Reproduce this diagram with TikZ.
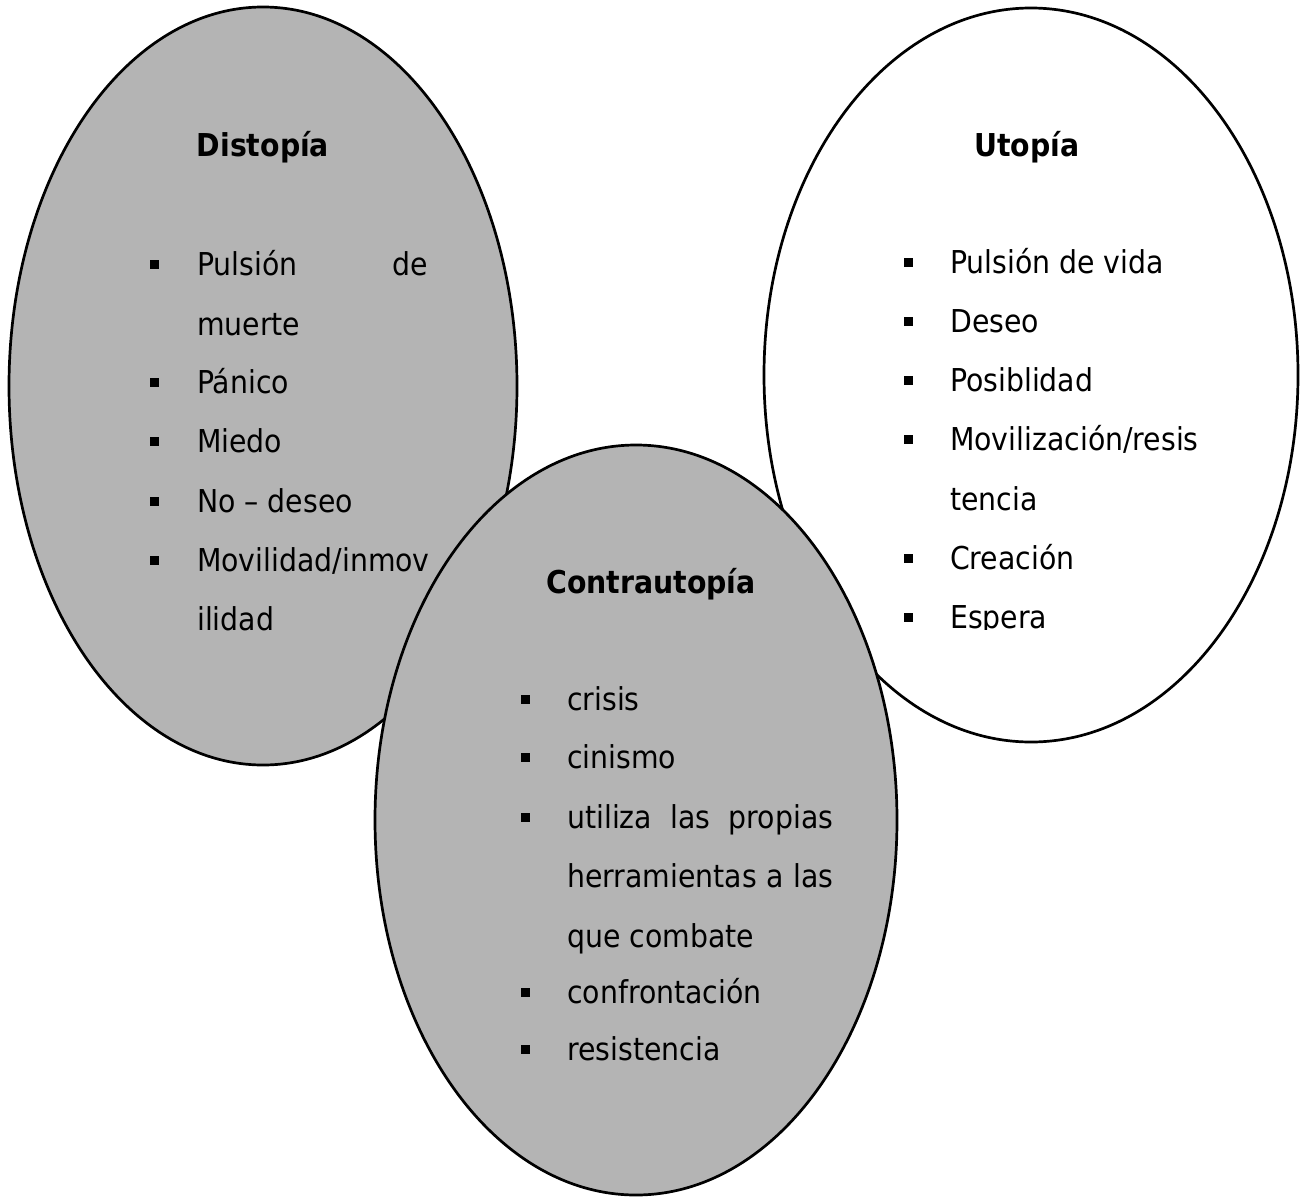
\documentclass[tikz,border=0pt]{standalone}
\usepackage{fontspec}
\setmainfont{DejaVu Sans Condensed}
\usetikzlibrary{shapes.geometric}
\definecolor{shade}{RGB}{180,180,180}
\begin{document}
\begin{tikzpicture}[x=1pt,y=-1pt,
  oval/.style={ellipse, draw=black, line width=2.7pt, inner sep=0pt},
  txt/.style={anchor=base west, inner sep=0pt, font=\fontsize{31.5}{37}\selectfont},
  head/.style={anchor=base, inner sep=0pt, font=\fontsize{31.5}{37}\selectfont\bfseries},
  bul/.style={fill=black, minimum size=9pt, inner sep=0pt}]
\useasboundingbox (0,0) rectangle (1300,1196);
\fill[white] (0,0) rectangle (1300,1196);
% ellipses
\node[oval, fill=shade, minimum width=508pt, minimum height=758pt] (dis) at (263,386) {};
\node[oval, fill=white, minimum width=534pt, minimum height=734pt] (uto) at (1031,375) {};
\node[oval, fill=shade, minimum width=522pt, minimum height=750pt] (con) at (636,820) {};
% Distopia
\node[head] (disH) at (263,157) {Distopía};
\node[bul] (db1) at (154,264) {};
\node[txt] (dt1) at (197,275) {\makebox[231pt][l]{Pulsión\hfill de}};
\node[txt] (dt2) at (197,335) {muerte};
\node[bul] (db2) at (154,382) {};
\node[txt] (dt3) at (197,393) {Pánico};
\node[bul] (db3) at (154,441) {};
\node[txt] (dt4) at (197,452) {Miedo};
\node[bul] (db4) at (154,501) {};
\node[txt] (dt5) at (197,512) {No – deseo};
\node[bul] (db5) at (154,560) {};
\node[txt] (dt6) at (197,571) {Movilidad/inmov};
\node[txt] (dt7) at (197,630) {ilidad};
% Utopia
\node[head] (utoH) at (1027,157) {Utopía};
\node[bul] (ub1) at (908,262) {};
\node[txt] (ut1) at (950,273) {Pulsión de vida};
\node[bul] (ub2) at (908,321) {};
\node[txt] (ut2) at (950,332) {Deseo};
\node[bul] (ub3) at (908,380) {};
\node[txt] (ut3) at (950,391) {Posiblidad};
\node[bul] (ub4) at (908,439) {};
\node[txt] (ut4) at (950,450) {Movilización/resis};
\node[txt] (ut5) at (950,510) {tencia};
\node[bul] (ub5) at (908,558) {};
\node[txt] (ut6) at (950,569) {Creación};
\node[bul] (ub6) at (908,617) {};
\begin{scope}
\clip (900,590) rectangle (1200,629);
\node[txt] (ut7) at (950,628) {Espera};
\end{scope}
% Contrautopia
\node[head] (conH) at (651,593) {Contrautopía};
\node[bul] (cb1) at (525,699) {};
\node[txt] (ct1) at (567,710) {crisis};
\node[bul] (cb2) at (525,757) {};
\node[txt] (ct2) at (567,768) {cinismo};
\node[bul] (cb3) at (525,817) {};
\node[txt] (ct3) at (567,828) {\makebox[266pt][l]{utiliza\hfill las\hfill propias}};
\node[txt] (ct4) at (567,887) {\makebox[266pt][l]{herramientas\hfill a\hfill las}};
\node[txt] (ct5) at (567,947) {que combate};
\node[bul] (cb4) at (525,992) {};
\node[txt] (ct6) at (567,1003) {confrontación};
\node[bul] (cb5) at (525,1049) {};
\node[txt] (ct7) at (567,1060) {resistencia};
\end{tikzpicture}
\end{document}
